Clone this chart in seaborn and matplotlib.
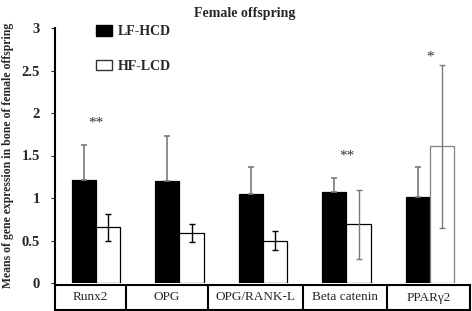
import numpy as np
import pandas as pd
import seaborn as sns
import matplotlib.pyplot as plt
from matplotlib.patches import Patch

sns.set_style("white")
plt.rcParams['font.family'] = ['Liberation Serif', 'DejaVu Serif']

genes = ['Runx2', 'OPG', 'OPG/RANK-L', 'Beta catenin', 'PPARγ2']
groups = ['LF-HCD', 'HF-LCD']
lf_mean = [1.21, 1.20, 1.05, 1.07, 1.015]
lf_err = [0.41, 0.53, 0.31, 0.17, 0.355]
hf_mean = [0.655, 0.585, 0.50, 0.69, 1.61]
hf_err = [0.155, 0.105, 0.115, 0.41, 0.96]
stars = ['**', '', '', '**', '*']
star_y = [1.88, 0, 0, 1.49, 2.66]
box_edges = [-0.49, 0.36, 1.34, 2.48, 3.49, 4.48]

df = pd.DataFrame({
    'gene': genes * 2,
    'group': [groups[0]] * 5 + [groups[1]] * 5,
    'value': lf_mean + hf_mean,
})

W, H = 472, 311
fig = plt.figure(figsize=(W / 100, H / 100), dpi=100)
ax = fig.add_axes([55 / W, (H - 283) / H, 415 / W, 255 / H])

sns.barplot(data=df, x='gene', y='value', hue='group', order=genes,
            hue_order=groups, palette=['black', 'white'], width=0.58,
            edgecolor='black', linewidth=0.9, errorbar=None, legend=False, ax=ax)

lf_bars, hf_bars = ax.containers[0], ax.containers[1]
lf_x = [p.get_x() + p.get_width() / 2 for p in lf_bars]
hf_x = [p.get_x() + p.get_width() / 2 for p in hf_bars]
hf_bars[4].set_edgecolor('#808080')

ax.errorbar(lf_x, lf_mean, yerr=[np.zeros(5), lf_err], fmt='none',
            ecolor='#7a7a7a', elinewidth=1.2, capsize=2.5, capthick=1.2)
for i in range(5):
    c = 'black' if i < 3 else '#7a7a7a'
    ax.errorbar(hf_x[i], hf_mean[i], yerr=hf_err[i], fmt='none',
                ecolor=c, elinewidth=1.0, capsize=2.5, capthick=1.0)

for i in range(5):
    if stars[i]:
        ax.text(i, star_y[i], stars[i], ha='center', va='center',
                fontsize=11, color='#333333')

ax.set_xlim(-0.49, 4.48)
ax.set_ylim(0, 3)
ax.set_yticks(np.arange(0, 3.01, 0.5))
ax.set_yticklabels(['0', '0.5', '1', '1.5', '2', '2.5', '3'],
                   fontsize=10.5, fontweight='bold')
ax.tick_params(axis='y', left=True, length=3, width=0.8, pad=8)
ax.set_xticks([])
ax.set_xlabel('')
ax.set_ylabel('Means of gene expression in bone of female offspring',
              fontsize=8.5, fontweight='bold')
ax.yaxis.set_label_coords(-0.099, 0.5)
for s in ['top', 'right', 'bottom']:
    ax.spines[s].set_visible(False)
ax.spines['left'].set_linewidth(1.5)
ax.spines['left'].set_color('black')

handles = [Patch(facecolor='black', edgecolor='black', label=groups[0]),
           Patch(facecolor='white', edgecolor='#333333', label=groups[1])]
ax.legend(handles=handles, loc='upper left', bbox_to_anchor=(0.069, 1.06),
          frameon=False, labelspacing=1.55, handlelength=1.15, handleheight=0.8,
          handletextpad=0.4, prop={'weight': 'bold', 'size': 10})

fig.text(245 / W, 1 - 14 / H, 'Female offspring', ha='center', va='center',
         fontsize=10, fontweight='bold')

# category table under the axis
tax = fig.add_axes([55 / W, (H - 310) / H, 415 / W, 25 / H])
tax.set_xlim(-0.49, 4.48)
tax.set_ylim(0, 1)
tax.set_xticks([])
tax.set_yticks([])
for s in tax.spines.values():
    s.set_linewidth(1.5)
    s.set_color('black')
for e in box_edges[1:-1]:
    tax.axvline(e, color='black', lw=1.5)
for i, g in enumerate(genes):
    tax.text((box_edges[i] + box_edges[i + 1]) / 2, 0.5, g, ha='center',
             va='center', fontsize=9.5)

fig.savefig('out.png', dpi=100)
